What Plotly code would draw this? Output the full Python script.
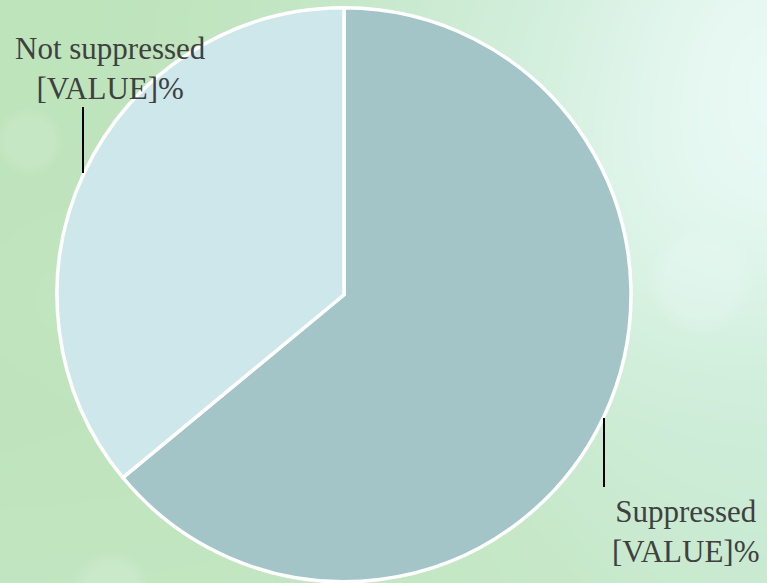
import base64, struct, zlib
import numpy as np
import plotly.graph_objects as go

# ---- data ----
labels = ["Suppressed", "Not suppressed"]
values = [64, 36]
colors = ["#A4C5C8", "#CDE7EB"]
label_texts = ["Suppressed<br>[VALUE]%", "Not suppressed<br>[VALUE]%"]

W, H = 767, 583


# ---- soft green bokeh background as an inline PNG ----
def make_bg(w=384, h=292):
    sx, sy = W / w, H / h
    yy, xx = np.mgrid[0:h, 0:w].astype(float)
    X, Y = xx * sx, yy * sy
    green = np.array([190, 228, 188], float)
    img = np.ones((h, w, 3)) * green
    t = np.clip((Y - 380) / 200, 0, 1)[..., None]
    img = img * (1 - 0.25 * t) + np.array([205, 236, 206]) * 0.25 * t

    def glow(cx, cy, r, col, strength, hard=False):
        nonlocal img
        d = np.sqrt((X - cx) ** 2 + (Y - cy) ** 2) / r
        if hard:
            a = np.where(d < 1, strength * np.clip((1 - d) * 3, 0, 1), 0)
        else:
            a = np.exp(-d ** 2) * strength
        a = a[..., None]
        img = img * (1 - a) + np.array(col, float) * a

    glow(770, 130, 330, [234, 251, 248], 0.95)
    glow(720, 60, 150, [242, 253, 252], 0.6)
    glow(520, 40, 200, [205, 236, 218], 0.45)
    glow(760, 470, 200, [204, 237, 222], 0.5)
    glow(700, 280, 55, [240, 252, 251], 0.25, hard=True)
    glow(28, 140, 36, [214, 238, 212], 0.35, hard=True)
    glow(110, 590, 42, [214, 238, 214], 0.4, hard=True)
    glow(60, 300, 120, [200, 232, 196], 0.3)
    arr = np.clip(img, 0, 255).astype(np.uint8)
    raw = b"".join(b"\x00" + arr[i].tobytes() for i in range(h))

    def chunk(tag, data):
        c = struct.pack(">I", len(data)) + tag + data
        return c + struct.pack(">I", zlib.crc32(tag + data) & 0xFFFFFFFF)

    png = b"\x89PNG\r\n\x1a\n" + chunk(b"IHDR", struct.pack(">IIBBBBB", w, h, 8, 2, 0, 0, 0)) \
        + chunk(b"IDAT", zlib.compress(raw, 9)) + chunk(b"IEND", b"")
    return "data:image/png;base64," + base64.b64encode(png).decode()


fig = go.Figure(
    go.Pie(
        labels=labels,
        values=values,
        sort=False,
        direction="clockwise",
        rotation=0,
        marker=dict(colors=colors, line=dict(color="white", width=3.5)),
        textinfo="none",
        hoverinfo="label+percent",
        domain=dict(x=[57 / W, 631 / W], y=[1 - 582 / H, 1 - 7.5 / H]),
        showlegend=False,
    )
)

font = dict(family="Liberation Serif, Times New Roman, serif", size=31, color="#404040")

fig.add_annotation(text=label_texts[1], x=110 / W, y=1 - 68 / H, xref="paper", yref="paper",
                   xanchor="center", yanchor="middle", showarrow=False, font=font, align="center")
fig.add_annotation(text=label_texts[0], x=686 / W, y=1 - 531 / H, xref="paper", yref="paper",
                   xanchor="center", yanchor="middle", showarrow=False, font=font, align="center")

fig.add_shape(type="line", xref="paper", yref="paper", x0=83 / W, x1=83 / W,
              y0=1 - 107 / H, y1=1 - 173 / H, line=dict(color="black", width=2))
fig.add_shape(type="line", xref="paper", yref="paper", x0=604 / W, x1=604 / W,
              y0=1 - 418 / H, y1=1 - 487 / H, line=dict(color="black", width=2))

fig.add_layout_image(dict(source=make_bg(), xref="paper", yref="paper", x=0, y=1,
                          sizex=1, sizey=1, xanchor="left", yanchor="top",
                          sizing="stretch", layer="below"))

fig.update_layout(
    width=W, height=H,
    margin=dict(l=0, r=0, t=0, b=0),
    paper_bgcolor="#C0E4BE",
    plot_bgcolor="rgba(0,0,0,0)",
)

fig.write_html("out.html")
